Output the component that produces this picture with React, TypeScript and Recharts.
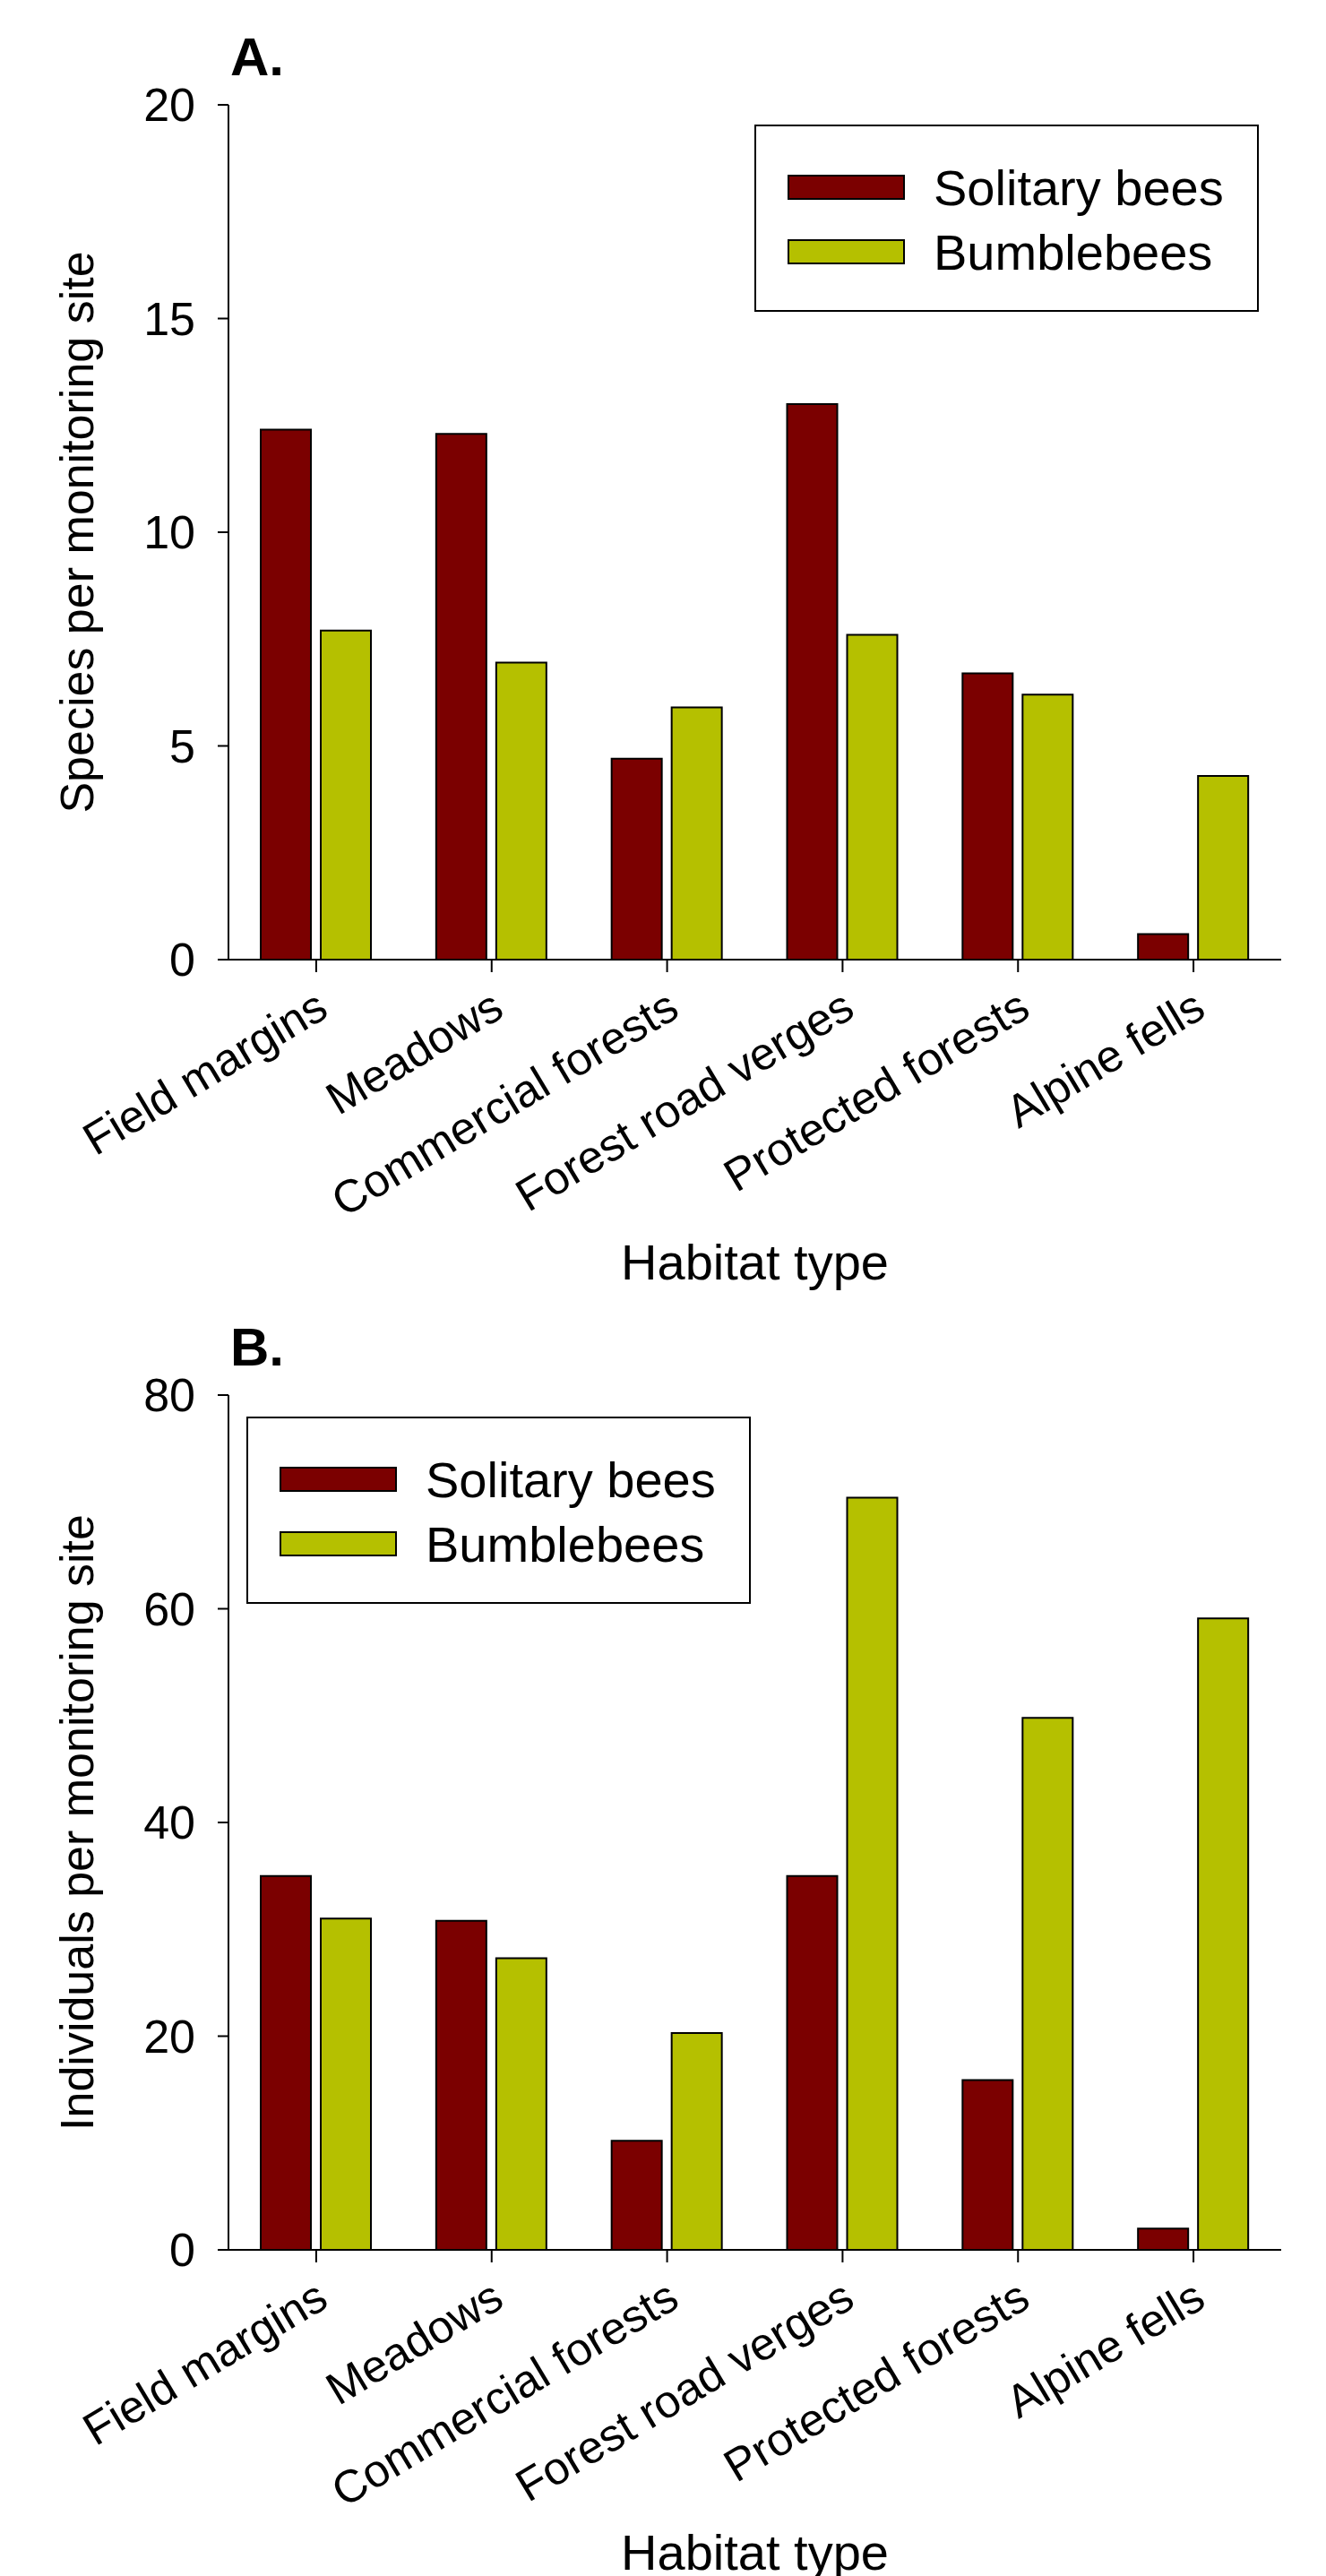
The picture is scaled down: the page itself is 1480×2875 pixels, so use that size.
import React from 'react';
import { Bar, BarChart, Customized, Legend, XAxis, YAxis } from 'recharts';

const categories = [
  'Field margins',
  'Meadows',
  'Commercial forests',
  'Forest road verges',
  'Protected forests',
  'Alpine fells',
];

const seriesNames = ['Solitary bees', 'Bumblebees'];

const speciesSolitary = [12.4, 12.3, 4.7, 13.0, 6.7, 0.6];
const speciesBumble = [7.7, 6.95, 5.9, 7.6, 6.2, 4.3];
const individualsSolitary = [35.0, 30.8, 10.2, 35.0, 15.9, 2.0];
const individualsBumble = [31.0, 27.3, 20.3, 70.4, 49.8, 59.1];

const speciesTicks = [0, 5, 10, 15, 20];
const individualsTicks = [0, 20, 40, 60, 80];

const FONT = '"Liberation Sans", Arial, sans-serif';
const RED = '#7b0000';
const GREEN = '#b5c000';

const toRows = (sol: number[], bum: number[]) =>
  categories.map((name, i) => ({ name, solitary: sol[i], bumble: bum[i] }));

function XTick(props: any) {
  const { x, y, payload } = props;
  const ax = x + 16;
  const ay = y + 48;
  return (
    <text
      x={ax}
      y={ay}
      transform={`rotate(-31, ${ax}, ${ay})`}
      textAnchor="end"
      fontSize={51}
      fontFamily={FONT}
      fill="#000"
    >
      {payload.value}
    </text>
  );
}

function LegendBox(props: any) {
  // keep the series order (recharts sorts legend items by name)
  const items = [...(props.payload || [])].sort(
    (a: any, b: any) => seriesNames.indexOf(a.value) - seriesNames.indexOf(b.value)
  );
  return (
    <svg width={563} height={209} style={{ display: 'block' }}>
      <rect x={1} y={1} width={561} height={207} fill="#fff" stroke="#000" strokeWidth={2} />
      {items.map((it: any, i: number) => {
        const cy = 70 + i * 72;
        return (
          <g key={it.value}>
            <rect x={38} y={cy - 13} width={129} height={26} fill={it.color} stroke="#000" strokeWidth={2} />
            <text x={200} y={cy} dominantBaseline="central" fontSize={56} fontFamily={FONT} fill="#000">
              {it.value}
            </text>
          </g>
        );
      })}
    </svg>
  );
}

type PanelProps = {
  sol: number[];
  bum: number[];
  ticks: number[];
  max: number;
  yLabel: string;
  tag: string;
  height: number;
  legendPos: { left: number; top: number };
};

function Panel({ sol, bum, ticks, max, yLabel, tag, height, legendPos }: PanelProps) {
  const data = toRows(sol, bum);
  return (
    <BarChart
      width={1480}
      height={height}
      data={data}
      margin={{ top: 117, right: 50, bottom: 0, left: 0 }}
      barGap={11}
    >
      <XAxis
        dataKey="name"
        type="category"
        height={height - 117 - 954}
        tickSize={14}
        tickMargin={0}
        tickLine={{ stroke: '#000', strokeWidth: 2 }}
        axisLine={{ stroke: '#000', strokeWidth: 2 }}
        tick={<XTick />}
        interval={0}
        label={{
          content: (p: any) => {
            const vb = p.viewBox;
            return (
              <text x={vb.x + vb.width / 2} y={vb.y + 357} textAnchor="middle" fontSize={56} fontFamily={FONT} fill="#000">
                Habitat type
              </text>
            );
          },
        }}
      />
      <XAxis xAxisId="top" orientation="top" dataKey="name" height={0} tick={false} tickLine={false} axisLine={{ stroke: '#000', strokeWidth: 2 }} />
      <YAxis
        type="number"
        domain={[0, max]}
        ticks={ticks}
        width={255}
        tickSize={12}
        tickMargin={25}
        tickLine={{ stroke: '#000', strokeWidth: 2 }}
        axisLine={{ stroke: '#000', strokeWidth: 2 }}
        tick={{ fontSize: 52, fontFamily: FONT, fill: '#000' }}
        label={{
          content: (p: any) => {
            const vb = p.viewBox;
            const cx = 86;
            const cy = vb.y + vb.height / 2;
            return (
              <text x={cx} y={cy} transform={`rotate(-90, ${cx}, ${cy})`} textAnchor="middle" dominantBaseline="central" fontSize={52} fontFamily={FONT} fill="#000">
                {yLabel}
              </text>
            );
          },
        }}
      />
      <YAxis yAxisId="right" orientation="right" domain={[0, max]} width={0} tick={false} tickLine={false} axisLine={{ stroke: '#000', strokeWidth: 2 }} />
      <Legend
        layout="vertical"
        align="center"
        verticalAlign="middle"
        content={<LegendBox />}
        wrapperStyle={{ left: legendPos.left, top: legendPos.top, width: 563, height: 209 }}
      />
      <Bar dataKey="solitary" name={seriesNames[0]} fill={RED} stroke="#000" strokeWidth={2} barSize={56} isAnimationActive={false} />
      <Bar dataKey="bumble" name={seriesNames[1]} fill={GREEN} stroke="#000" strokeWidth={2} barSize={56} isAnimationActive={false} />
      <Customized
        component={() => (
          <text x={257} y={84} fontSize={60} fontWeight="bold" fontFamily={FONT} fill="#000">
            {tag}
          </text>
        )}
      />
    </BarChart>
  );
}

export default function App() {
  return (
    <div style={{ position: 'absolute', left: 0, top: 0, width: 1480, height: 2875, background: '#fff', overflow: 'hidden' }}>
      <div style={{ position: 'absolute', left: 0, top: 0 }}>
        <Panel
          sol={speciesSolitary}
          bum={speciesBumble}
          ticks={speciesTicks}
          max={20}
          yLabel="Species per monitoring site"
          tag="A."
          height={1440}
          legendPos={{ left: 842, top: 139 }}
        />
      </div>
      <div style={{ position: 'absolute', left: 0, top: 1440 }}>
        <Panel
          sol={individualsSolitary}
          bum={individualsBumble}
          ticks={individualsTicks}
          max={80}
          yLabel="Individuals per monitoring site"
          tag="B."
          height={1435}
          legendPos={{ left: 275, top: 141 }}
        />
      </div>
    </div>
  );
}
